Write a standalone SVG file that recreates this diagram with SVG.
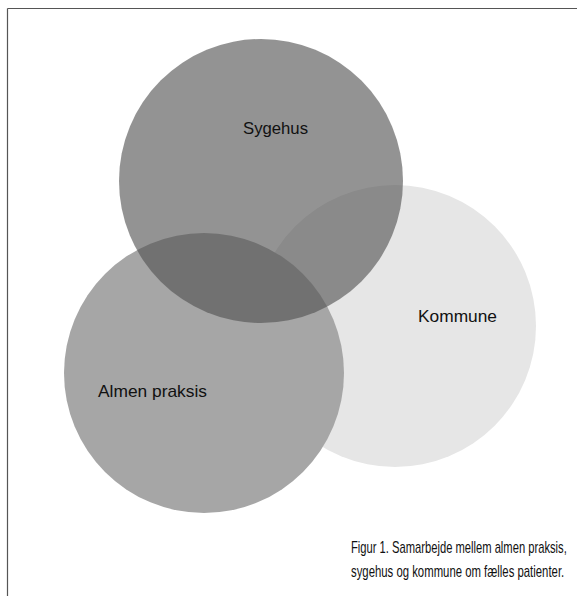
<svg xmlns="http://www.w3.org/2000/svg" width="577" height="596" viewBox="0 0 577 596">
  <style>
    .lbl { font-family: "Liberation Sans", Arial, sans-serif; font-size: 17px; fill: #111; }
    .cap { font-family: "Liberation Sans", Arial, sans-serif; font-size: 16px; fill: #111; }
    .frame { stroke: #555; stroke-width: 1.2; fill: none; }
  </style>
  <rect x="0" y="0" width="577" height="596" fill="#ffffff"/>
  <g id="frame">
    <line class="frame" x1="7.5" y1="8.5" x2="577" y2="8.5"/>
    <line class="frame" x1="7.5" y1="8.5" x2="7.5" y2="596"/>
  </g>
  <g id="kommune">
    <circle cx="395" cy="326" r="141" fill="#e6e6e6"/>
    <text class="lbl" x="418" y="322" textLength="79" lengthAdjust="spacingAndGlyphs">Kommune</text>
  </g>
  <g id="almen-praksis">
    <circle cx="204" cy="373" r="140" fill="#a6a6a6"/>
  </g>
  <g id="sygehus">
    <circle cx="261" cy="181" r="142" fill="#505050" fill-opacity="0.62"/>
    <text class="lbl" x="243" y="134" textLength="65" lengthAdjust="spacingAndGlyphs">Sygehus</text>
  </g>
  <g id="almen-praksis-label">
    <text class="lbl" x="98" y="397" textLength="109" lengthAdjust="spacingAndGlyphs">Almen praksis</text>
  </g>
  <g id="connectors"/>
  <g id="caption">
    <text class="cap" transform="translate(351 553) scale(0.7 1)" x="0" y="0">Figur 1. Samarbejde mellem almen praksis,</text>
    <text class="cap" transform="translate(351 577) scale(0.71 1)" x="0" y="0">sygehus og kommune om fælles patienter.</text>
  </g>
</svg>
